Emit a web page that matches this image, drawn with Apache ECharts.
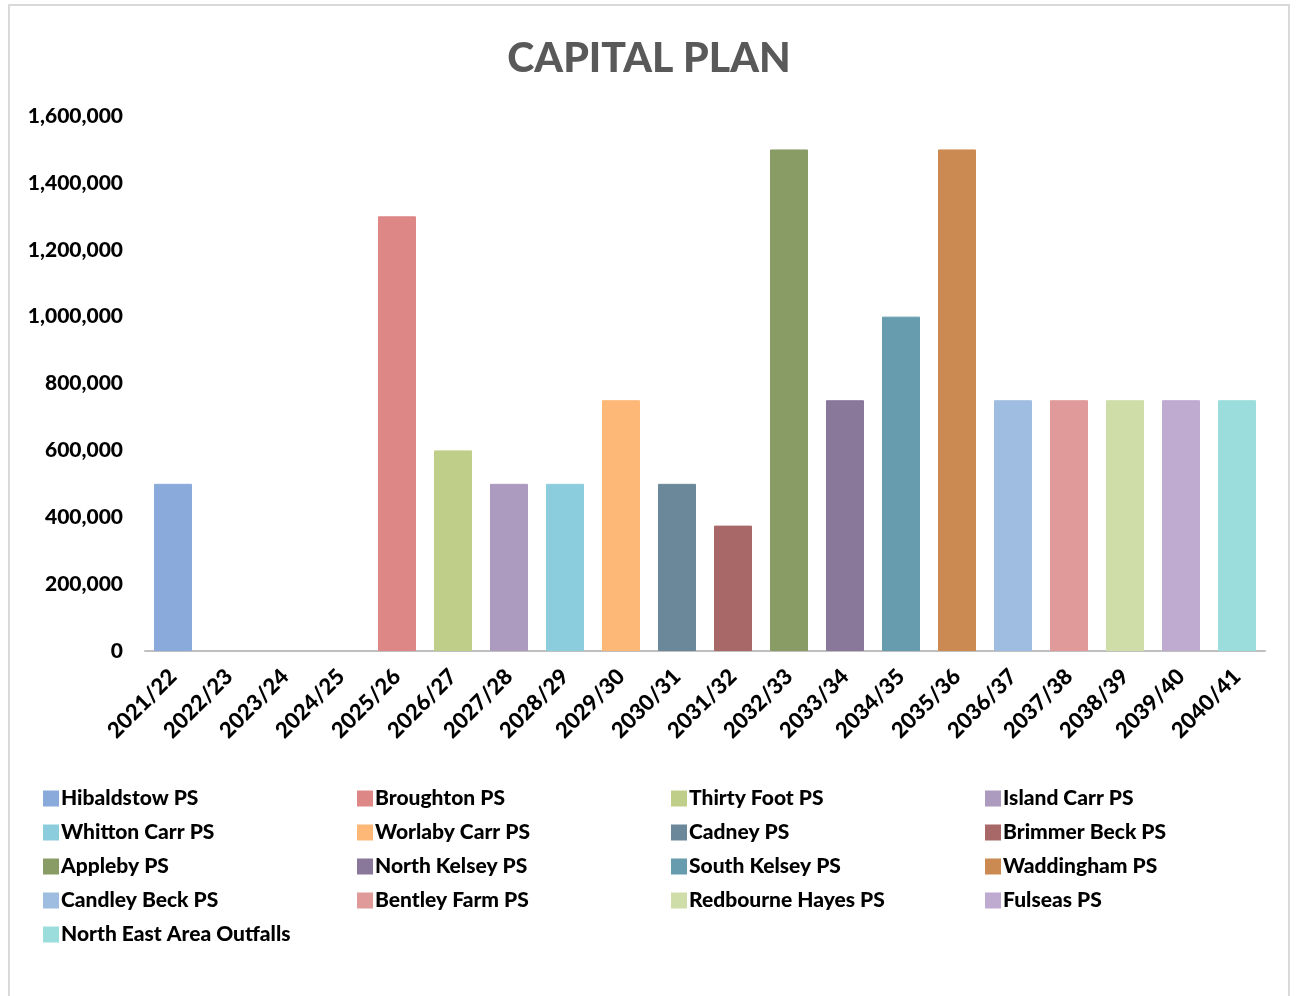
<!DOCTYPE html>
<html>
<head>
    <meta charset="utf-8">
    <title>Capital Plan</title>
    <script src="https://cdn.jsdelivr.net/npm/echarts@6/dist/echarts.min.js"></script>
    <style>
        body { margin: 0; background: #fff; }
        #frame { position: absolute; left: 8px; top: 4px; width: 1282px; height: 1000px; border: 2px solid #d9d9d9; box-sizing: border-box; }
        #chart1 { position: absolute; left: 0; top: 0; width: 1298px; height: 996px; }
    </style>
</head>
<body>
<div id="frame"></div>
<div id="chart1"></div>
<script type="text/javascript">
    // 财年
    var years = ['2021/22', '2022/23', '2023/24', '2024/25', '2025/26', '2026/27', '2027/28', '2028/29', '2029/30', '2030/31',
        '2031/32', '2032/33', '2033/34', '2034/35', '2035/36', '2036/37', '2037/38', '2038/39', '2039/40', '2040/41'];

    // each scheme sits in one year
    var schemeNames = ['Hibaldstow PS', 'Broughton PS', 'Thirty Foot PS', 'Island Carr PS', 'Whitton Carr PS', 'Worlaby Carr PS',
        'Cadney PS', 'Brimmer Beck PS', 'Appleby PS', 'North Kelsey PS', 'South Kelsey PS', 'Waddingham PS',
        'Candley Beck PS', 'Bentley Farm PS', 'Redbourne Hayes PS', 'Fulseas PS', 'North East Area Outfalls'];
    var schemeYears = ['2021/22', '2025/26', '2026/27', '2027/28', '2028/29', '2029/30', '2030/31', '2031/32', '2032/33',
        '2033/34', '2034/35', '2035/36', '2036/37', '2037/38', '2038/39', '2039/40', '2040/41'];
    var schemeValues = [500000, 1300000, 600000, 500000, 500000, 750000, 500000, 375000, 1500000,
        750000, 1000000, 1500000, 750000, 750000, 750000, 750000, 750000];
    var schemeColors = ['#8aaadc', '#dd8787', '#bfcf8a', '#ac9bbf', '#8ccddd', '#fdb877', '#6a8899', '#a96868', '#8a9c66',
        '#8a789a', '#679cae', '#cc8a53', '#9fbde0', '#e09a9a', '#cfdea8', '#bfaad0', '#9adddc'];

    var font = 'Lato';

    var series = schemeNames.map(function (name, i) {
        var data = years.map(function (y) {
            return y === schemeYears[i] ? schemeValues[i] : null;
        });
        return {
            name: name,
            type: 'bar',
            stack: 'total',
            barWidth: 38,
            itemStyle: { color: schemeColors[i], borderColor: schemeColors[i], borderWidth: 1 },
            data: data
        };
    });

    // legend columns like the original layout (4 columns)
    var legendCols = [[], [], [], []];
    schemeNames.forEach(function (n, i) { legendCols[i % 4].push(n); });
    var legendLeft = [38, 352, 666, 980];
    var legends = legendCols.map(function (col, c) {
        return {
            data: col,
            orient: 'vertical',
            left: legendLeft[c],
            top: 783,
            icon: 'rect',
            itemWidth: 14,
            itemHeight: 14,
            itemGap: 13,
            selectedMode: false,
            textStyle: { fontFamily: font, fontWeight: 900, fontSize: 21, color: '#000', padding: [0, 0, 0, -2] }
        };
    });

    var myChart1 = echarts.init(document.getElementById('chart1'));
    myChart1.setOption({
        animation: false,
        title: {
            text: 'CAPITAL PLAN',
            left: 'center',
            top: 33,
            textStyle: { fontFamily: font, fontWeight: 900, fontSize: 41, color: '#595959' }
        },
        legend: legends,
        grid: { left: 145, right: 33, top: 116, bottom: 345 },
        xAxis: {
            type: 'category',
            data: years,
            axisLine: { lineStyle: { color: '#bfbfbf', width: 2 } },
            axisTick: { show: false },
            axisLabel: {
                interval: 0,
                rotate: 45,
                margin: 22,
                fontFamily: font,
                fontWeight: 900,
                fontSize: 22,
                color: '#000'
            }
        },
        yAxis: {
            type: 'value',
            min: 0,
            max: 1600000,
            interval: 200000,
            splitLine: { show: false },
            axisLine: { show: false },
            axisLabel: {
                margin: 22,
                fontFamily: font,
                fontWeight: 900,
                fontSize: 21,
                color: '#000',
                formatter: function (v) { return v.toLocaleString('en-US'); }
            }
        },
        series: series
    });
</script>
</body>
</html>
